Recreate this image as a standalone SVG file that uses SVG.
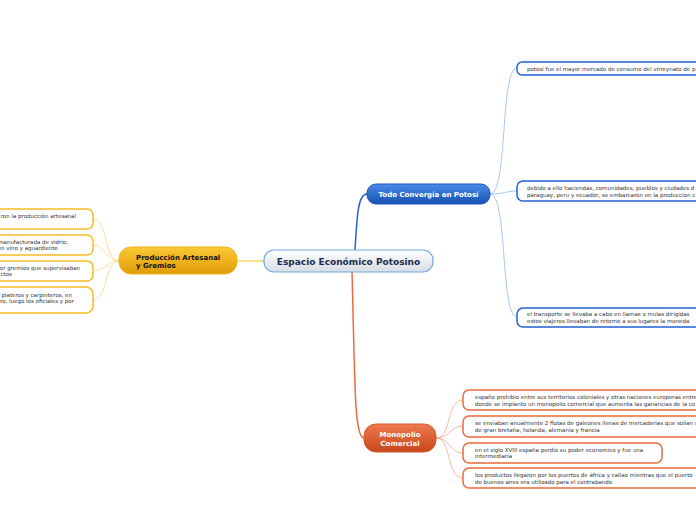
<svg xmlns="http://www.w3.org/2000/svg" width="696" height="520" viewBox="0 0 696 520">
<defs>
<linearGradient id="gC" x1="0" y1="0" x2="0" y2="1"><stop offset="0" stop-color="#ffffff"/><stop offset="1" stop-color="#d6dde4"/></linearGradient>
<linearGradient id="gY" x1="0" y1="0" x2="0" y2="1"><stop offset="0" stop-color="#f9c934"/><stop offset="1" stop-color="#e09c08"/></linearGradient>
<linearGradient id="gB" x1="0" y1="0" x2="0" y2="1"><stop offset="0" stop-color="#4a8ce8"/><stop offset="1" stop-color="#1850b0"/></linearGradient>
<linearGradient id="gR" x1="0" y1="0" x2="0" y2="1"><stop offset="0" stop-color="#f07a4e"/><stop offset="1" stop-color="#c8461c"/></linearGradient>
</defs>
<style>
text{font-family:"DejaVu Sans","Liberation Sans",sans-serif}
.leaf{fill:#fff;stroke-width:1.5}
.lb{stroke:#2262d4}
.lr{stroke:#ec6a3c}
.ly{stroke:#f6bc22}
.lt{font-size:5.5px;fill:#333}
.mt{font-weight:bold;font-size:7px}
.c{fill:none}
</style>
<rect width="696" height="520" fill="#fff"/>
<g id="connectors">
<path class="c" d="M264,261 L237,261" stroke="#f7c84a" stroke-width="1.2"/>
<path class="c" d="M355,250 C357,215 358,194 367,194" stroke="#2262d4" stroke-width="1.5"/>
<path class="c" d="M352,272 C355,380 354,438 364,438" stroke="#ec6a3c" stroke-width="1.5"/>
<g stroke="#8fb8f2" stroke-width="0.8" fill="none">
<path d="M490,194 C508,194 500,68 517,68"/>
<path d="M490,194 C505,194 505,191 517,191"/>
<path d="M490,194 C508,194 500,317 517,317"/>
</g>
<g stroke="#f6a888" stroke-width="0.8" fill="none">
<path d="M436,438 C452,438 446,400 463,400"/>
<path d="M436,438 C450,438 450,426 463,426"/>
<path d="M436,438 C450,438 450,453 463,453"/>
<path d="M436,438 C452,438 446,478 463,478"/>
</g>
<g stroke="#f8d884" stroke-width="0.8" fill="none">
<path d="M119,261 C104,261 108,219 93,219"/>
<path d="M119,261 C106,261 106,245 93,245"/>
<path d="M119,261 C106,261 106,271 93,271"/>
<path d="M119,261 C104,261 108,300 93,300"/>
</g>
</g>
<g id="central">
<rect x="264" y="250" width="169" height="22" rx="10" fill="url(#gC)" stroke="#6ea9de" stroke-width="1.2"/>
<text x="348.5" y="265" text-anchor="middle" font-size="9" font-weight="bold" fill="#1b2b4c">Espacio Económico Potosino</text>
</g>
<g id="produccion">
<rect x="119" y="247" width="118" height="27" rx="12" fill="url(#gY)" stroke="#f2b418" stroke-width="1"/>
<text class="mt" x="136" y="260" fill="#111">Producción Artesanal</text>
<text class="mt" x="136" y="268" fill="#111">y Gremios</text>
</g>
<g id="todo">
<rect x="367" y="184" width="123" height="20" rx="9" fill="url(#gB)" stroke="#1a58c0" stroke-width="1"/>
<text class="mt" x="428.5" y="197" text-anchor="middle" fill="#fff">Todo Convergía en Potosí</text>
</g>
<g id="monopolio">
<rect x="364" y="424" width="72" height="28" rx="12" fill="url(#gR)" stroke="#d85a2a" stroke-width="1"/>
<text class="mt" x="400" y="437" text-anchor="middle" fill="#fff">Monopolio</text>
<text class="mt" x="400" y="446" text-anchor="middle" fill="#fff">Comercial</text>
</g>
<g id="leaf-t1">
<rect class="leaf lb" x="517" y="62" width="200" height="13" rx="5"/>
<text class="lt" x="527" y="71">potosi fue el mayor mercado de consumo del virreynato de p</text>
</g>
<g id="leaf-t2">
<rect class="leaf lb" x="517" y="181" width="200" height="20" rx="6"/>
<text class="lt" x="527" y="190">debido a ello haciendas, comunidades, pueblos y ciudades d</text>
<text class="lt" x="527" y="197">paraguay, peru y ecuador, se embarcaron en la produccion c</text>
</g>
<g id="leaf-t3">
<rect class="leaf lb" x="517" y="308" width="200" height="19" rx="6"/>
<text class="lt" x="527" y="316">el transporte se llevaba a cabo en llamas o mulas dirigidas</text>
<text class="lt" x="527" y="323">estos viajeros llevaban de retorno a sus lugares la moneda</text>
</g>
<g id="leaf-m1">
<rect class="leaf lr" x="463" y="390" width="250" height="20" rx="6"/>
<text class="lt" x="475" y="399">españo prohibio entre sus territorios coloniales y otras naciones europeras entre</text>
<text class="lt" x="475" y="406">donde se implanto un monopolio comercial que aumenta las ganancias de la co</text>
</g>
<g id="leaf-m2">
<rect class="leaf lr" x="463" y="416" width="250" height="21" rx="6"/>
<text class="lt" x="475" y="425">se enviaban anualmente 2 flotas de galeones llenas de mercaderias que solian s</text>
<text class="lt" x="475" y="432">de gran bretaña, holanda, alemania y francia</text>
</g>
<g id="leaf-m3">
<rect class="leaf lr" x="463" y="443" width="199" height="20" rx="6"/>
<text class="lt" x="475" y="452">en el siglo XVIII españa perdio su poder economico y fue una</text>
<text class="lt" x="475" y="458">intermediaria</text>
</g>
<g id="leaf-m4">
<rect class="leaf lr" x="463" y="468" width="250" height="20" rx="6"/>
<text class="lt" x="475" y="477">los productos llegaron por los puertos de áfrica y callao mientras que el puerto</text>
<text class="lt" x="475" y="484">de buenos aires era utilizado para el contrabando</text>
</g>
<g id="leaf-p1">
<rect class="leaf ly" x="-40" y="209" width="133" height="20" rx="6"/>
<text class="lt" x="76" y="218" text-anchor="end">ron la producción artesanal</text>
</g>
<g id="leaf-p2">
<rect class="leaf ly" x="-40" y="235" width="133" height="20" rx="6"/>
<text class="lt" x="68" y="244" text-anchor="end">manufacturada de vidrio;</text>
<text class="lt" x="58" y="250" text-anchor="end">en vino y aguardiente</text>
</g>
<g id="leaf-p3">
<rect class="leaf ly" x="-40" y="261" width="133" height="20" rx="6"/>
<text class="lt" x="80" y="270" text-anchor="end">or gremios que supervisaban</text>
<text class="lt" x="12" y="276" text-anchor="end">ctos</text>
</g>
<g id="leaf-p4">
<rect class="leaf ly" x="-40" y="287" width="133" height="26" rx="7"/>
<text class="lt" x="72" y="297" text-anchor="end">plateros y carpinteros, en</text>
<text class="lt" x="74" y="303" text-anchor="end">ro, luego los oficiales y por</text>
</g>
</svg>
